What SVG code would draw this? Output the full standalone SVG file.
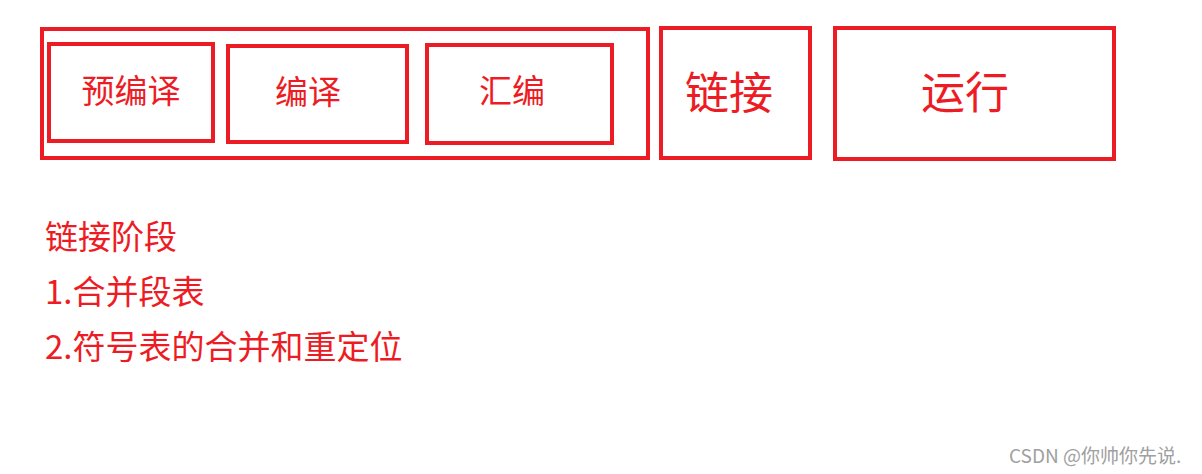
<svg xmlns="http://www.w3.org/2000/svg" width="1202" height="474" viewBox="0 0 1202 474">
<style>
.box{fill:none;stroke:#ED1C24;stroke-width:4}
.t{fill:#ED1C24;font-family:"Microsoft YaHei","Noto Sans CJK SC","Noto Sans",sans-serif;text-anchor:middle;dominant-baseline:central}
.s{font-size:33px}
.l{font-size:44px}
.b{fill:#ED1C24;font-family:"Microsoft YaHei","Noto Sans CJK SC","Noto Sans",sans-serif;font-size:33px}
.w{fill:#A0A0A0;font-family:"Noto Sans CJK SC","Noto Sans",sans-serif;font-size:19px}
</style>
<rect width="1202" height="474" fill="#fff"/>
<g id="compile-stage">
<rect class="box" x="42" y="29" width="606" height="129"/>
</g>
<g id="precompile">
<rect class="box" x="49" y="44" width="164" height="97"/>
<text class="t s" x="131" y="89">预编译</text>
</g>
<g id="compile">
<rect class="box" x="228" y="46" width="179" height="96"/>
<text class="t s" x="308" y="90">编译</text>
</g>
<g id="assemble">
<rect class="box" x="427" y="45" width="185" height="98"/>
<text class="t s" x="512" y="89">汇编</text>
</g>
<g id="link">
<rect class="box" x="661" y="28" width="149" height="130"/>
<text class="t l" x="729" y="90">链接</text>
</g>
<g id="run">
<rect class="box" x="835" y="28" width="279" height="131"/>
<text class="t l" x="965" y="90">运行</text>
</g>
<g id="connectors"></g>
<g id="notes">
<text class="b" x="45" y="249">链接阶段</text>
<text class="b" x="45" y="304">1.合并段表</text>
<text class="b" x="45" y="359">2.符号表的合并和重定位</text>
</g>
<text class="w" x="1009" y="463">CSDN @你帅你先说.</text>
</svg>
